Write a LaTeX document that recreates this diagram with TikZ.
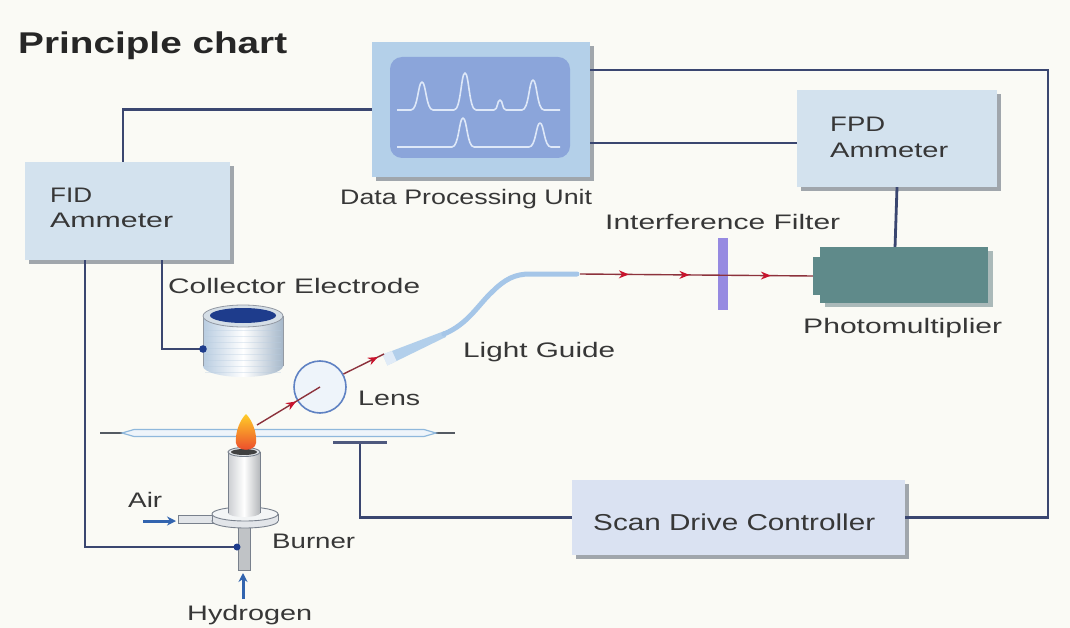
\documentclass[tikz,border=0pt]{standalone}
\usepackage{fontspec}
\setmainfont{Liberation Sans}
\usetikzlibrary{arrows.meta,decorations.markings,shadows,calc}

\definecolor{bgc}{RGB}{250,250,245}
\definecolor{wirec}{RGB}{58,70,112}
\definecolor{boxc}{RGB}{211,226,238}
\definecolor{sdcc}{RGB}{218,226,242}
\definecolor{shadowc}{RGB}{160,166,172}
\definecolor{dpuout}{RGB}{180,208,233}
\definecolor{dpuin}{RGB}{139,165,218}
\definecolor{tracec}{RGB}{222,232,248}
\definecolor{raydark}{RGB}{140,50,60}
\definecolor{rayred}{RGB}{200,20,45}
\definecolor{filterc}{RGB}{150,138,225}
\definecolor{pmtc}{RGB}{95,138,138}
\definecolor{pmtsh}{RGB}{170,185,185}
\definecolor{lgc}{RGB}{165,198,232}
\definecolor{lensblue}{RGB}{95,130,195}
\definecolor{lensfill}{RGB}{238,244,250}
\definecolor{cylin}{RGB}{30,60,140}
\definecolor{cylside}{RGB}{184,204,224}
\definecolor{flowc}{RGB}{50,100,175}
\definecolor{txtc}{RGB}{55,55,55}
\definecolor{metal}{RGB}{120,128,140}
\definecolor{metalfill}{RGB}{226,229,233}
\definecolor{platec}{RGB}{143,184,220}
\definecolor{flamey}{RGB}{255,205,40}
\definecolor{flameo}{RGB}{250,140,30}
\definecolor{flamer}{RGB}{235,70,45}

% stretch a text horizontally to a given width, keeping its height
\newcommand\fitw[2]{\resizebox{#1pt}{\height}{#2}}

\tikzset{
  wire/.style={draw=wirec, line width=2.8pt},
  unitbox/.style={fill=boxc, inner sep=0pt,
    drop shadow={shadow xshift=4pt, shadow yshift=-4pt, fill=shadowc, opacity=1}},
  lbl/.style={anchor=base west, inner sep=0pt, text=txtc,
    font=\fontsize{21}{24}\selectfont},
  ray/.style={draw=raydark, line width=1.4pt},
  raymarks/.style={postaction={decorate, decoration={markings,
    mark=at position #1 with {\arrow[rayred]{Stealth[length=10pt,width=8pt]}}}}},
  flow/.style={draw=flowc, line width=3pt, -{Stealth[length=9pt,width=9pt]}},
  metalpart/.style={fill=metalfill, draw=metal, line width=0.9pt},
  trace/.style={draw=tracec, line width=1.6pt, line join=round},
  dot/.style={fill=cylin},
}

\begin{document}
\begin{tikzpicture}[x=1pt, y=-1pt]
  \useasboundingbox (0,0) rectangle (1070,628);
  \fill[bgc] (0,0) rectangle (1070,628);

  % ---- units (boxes) ----
  \node[unitbox, minimum width=205, minimum height=98] (fid) at (127.5,211) {};
  \node[unitbox, minimum width=200, minimum height=97] (fpd) at (897,138.5) {};
  \node[unitbox, fill=sdcc, minimum width=333, minimum height=75] (sdc) at (738.5,517.5) {};
  \node[unitbox, fill=dpuout, minimum width=218, minimum height=135] (dpu) at (481,109.5) {};

  % ---- wiring ----
  \coordinate (rc) at (1048,70);
  \coordinate (fpdin) at ([yshift=-4.5]fpd.west);
  \coordinate (cyldot) at (203,349);
  \coordinate (h2dot) at (237,547);
  \coordinate (bar) at (360,442);
  \draw[wire] ([xshift=-4.5]fid.north) |- (dpu.west);
  \draw[wire] ([yshift=39.5]dpu.east) -- (rc) |- (sdc.east);
  \draw[wire] (dpu.east |- fpdin) -- (fpdin);
  \draw[wire] (fpd.south) -- (895,248);
  \draw[wire] ([xshift=34.5]fid.south) |- (cyldot);
  \draw[wire] ([xshift=-42.5]fid.south) |- (h2dot);
  \draw[wire] (bar) |- (sdc.west);

  % ---- data processing screen ----
  \fill[dpuin, rounded corners=12pt] (390,57) rectangle (570,158);
  \draw[trace] (397,110) -- (411,110)
     .. controls (418,110) and (418,82) .. (422,82)
     .. controls (426,82) and (426,110) .. (433,110) -- (454,110)
     .. controls (461,110) and (461,73) .. (465,73)
     .. controls (469,73) and (469,110) .. (476,110) -- (494,110)
     .. controls (498,110) and (497,100) .. (500,100)
     .. controls (503,100) and (502,110) .. (506,110) -- (522,110)
     .. controls (529,110) and (529,80) .. (533,80)
     .. controls (537,80) and (537,110) .. (544,110) -- (560,110);
  \draw[trace] (397,147) -- (452,147)
     .. controls (459,147) and (459,118) .. (463,118)
     .. controls (467,118) and (467,147) .. (474,147) -- (529,147)
     .. controls (536,147) and (536,123) .. (540,123)
     .. controls (544,123) and (544,147) .. (551,147) -- (560,147);

  % ---- collector electrode (cylinder) ----
  \shade[left color=cylside, right color=cylside!90!black, middle color=white]
    (203,316) rectangle (283,366);
  \shade[left color=cylside, right color=cylside!90!black, middle color=white]
    (243,366) ellipse [x radius=40, y radius=11];
  \draw[metal!80, line width=0.8pt] (203,316) -- (203,366) (283,316) -- (283,366);
  \foreach \yy in {330,336,...,372} {
    \draw[cylside, opacity=0.35, line width=0.6pt] (205,\yy) -- (281,\yy);
  }
  \filldraw[fill=metalfill!70!cylside, draw=metal!80, line width=0.8pt]
    (243,316) ellipse [x radius=40, y radius=11];
  \fill[cylin] (243,315.5) ellipse [x radius=33, y radius=7.5];
  \fill[dot] (cyldot) circle (3.8);

  % ---- plate ----
  \draw[draw=metal!70!black, line width=2pt] (100,433) -- (130,433) (428,433) -- (455,433);
  \filldraw[fill=lensfill, draw=platec, line width=1.2pt]
    (122,433) -- (134,429.5) -- (424,429.5) -- (436,433) -- (424,436.5) -- (134,436.5) -- cycle;
  \draw[draw=wirec!90, line width=3pt] (333,442) -- (387,442);

  % ---- burner ----
  \filldraw[metalpart, fill=metalfill!85!black] (238,522) rectangle (250,570);
  \filldraw[metalpart] (178,515) rectangle (214,523);
  \filldraw[metalpart] (245,521) ellipse [x radius=33, y radius=7];
  \fill[metalfill] (212,514) rectangle (278,521);
  \draw[metal, line width=0.9pt] (212,514) -- (212,521) (278,514) -- (278,521);
  \filldraw[metalpart, fill=white!60!metalfill] (245,514) ellipse [x radius=33, y radius=7];
  \shade[left color=metalfill!90!black, right color=metalfill!80!black, middle color=white]
    (228,452) rectangle (260,513);
  \shade[left color=metalfill!90!black, right color=metalfill!80!black, middle color=white]
    (244,513) ellipse [x radius=16, y radius=4];
  \draw[metal, line width=0.9pt] (228,452) -- (228,513) (260,452) -- (260,513);
  \filldraw[fill=metalfill, draw=metal, line width=0.9pt] (244,452) ellipse [x radius=16, y radius=4.5];
  \fill[black!75] (244,452) ellipse [x radius=13, y radius=3];
  \fill[dot] (h2dot) circle (3.5);

  % flame
  \shade[top color=flamey, middle color=flameo, bottom color=flamer]
    (246,414) .. controls (252,420) and (257,432) .. (256,443)
    .. controls (255,452) and (237,452) .. (236,443)
    .. controls (235,432) and (240,420) .. (246,414) -- cycle;
  \coordinate (flametip) at (257,425);

  % gas inlets
  \draw[flow] (143,521) -- (176,521);
  \draw[flow] (243,599) -- (243,573);

  % ---- optics ----
  \node[circle, minimum size=52pt, inner sep=0pt, draw=lensblue, line width=1.6pt,
        fill=lensfill] (lens) at (320,387) {};
  \coordinate (lgin) at (384,354);
  \coordinate (lgout) at (580,274);

  % light guide
  \fill[lgc!85!white] (382.6,354.5) -- (443.8,331.2) -- (446.2,336.8) -- (387.4,365.5) -- cycle;
  \fill[white, opacity=0.6] (382.6,354.5) -- (392,351) -- (396.6,361) -- (387.4,365.5) -- cycle;
  \draw[lgc, line width=5pt, line cap=round]
    (444,334) .. controls (468,324) and (478,305) .. (492,292)
    .. controls (505,279) and (515,274) .. (530,274) -- (577,274);

  % interference filter and photomultiplier
  \node[fill=filterc, minimum width=10, minimum height=72, inner sep=0pt] (filt) at (723,274) {};
  \node[fill=pmtc, minimum width=168, minimum height=56, inner sep=0pt,
        drop shadow={shadow xshift=5pt, shadow yshift=-4pt, fill=pmtsh, opacity=1}] (pmt) at (904,275) {};
  \node[fill=pmtc, minimum width=8, minimum height=38, inner sep=0pt] (pmtw) at (817,276) {};

  % light rays
  \draw[ray, raymarks=0.62] (flametip) -- (lens.center);
  \draw[ray, raymarks=0.85] (lens.29) -- (lgin);
  \draw[ray, raymarks=0.21, raymarks=0.47, raymarks=0.82] (lgout) -- (pmtw.west);

  % ---- texts ----
  \node[lbl, text=black!85, font=\fontsize{30}{34}\selectfont\bfseries] (title) at (18,54) {\fitw{269}{Principle chart}};
  \node[lbl] (fidt1) at (50,203) {\fitw{42}{FID}};
  \node[lbl] (fidt2) at (50,228) {\fitw{123}{Ammeter}};
  \node[lbl] (fpdt1) at (830,132) {\fitw{55}{FPD}};
  \node[lbl] (fpdt2) at (830,158) {\fitw{118}{Ammeter}};
  \node[lbl] (dput) at (340,205) {\fitw{252}{Data Processing Unit}};
  \node[lbl] (filtt) at (605,230) {\fitw{235}{Interference Filter}};
  \node[lbl] (cylt) at (168,293) {\fitw{252}{Collector Electrode}};
  \node[lbl] (pmtt) at (803,333) {\fitw{199}{Photomultiplier}};
  \node[lbl] (lgt) at (463,357) {\fitw{152}{Light Guide}};
  \node[lbl] (lenst) at (358,405) {\fitw{62}{Lens}};
  \node[lbl] (airt) at (128,507) {\fitw{34}{Air}};
  \node[lbl] (burnt) at (272,548) {\fitw{83}{Burner}};
  \node[lbl] (h2t) at (187,620) {\fitw{125}{Hydrogen}};
  \node[lbl, font=\fontsize{23}{26}\selectfont] (sdct) at (593,530) {\fitw{282}{Scan Drive Controller}};
\end{tikzpicture}
\end{document}
